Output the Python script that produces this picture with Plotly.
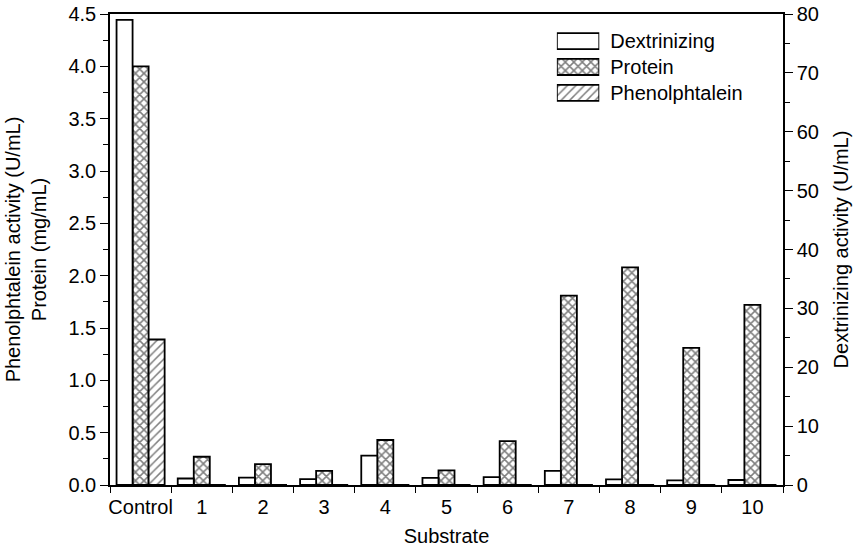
import plotly.graph_objects as go

categories = ["Control", "1", "2", "3", "4", "5", "6", "7", "8", "9", "10"]
dextrinizing = [79.0, 1.1, 1.25, 1.0, 5.0, 1.2, 1.35, 2.4, 0.95, 0.8, 0.85]   # U/mL, right axis
protein = [4.0, 0.27, 0.20, 0.135, 0.43, 0.14, 0.42, 1.81, 2.08, 1.31, 1.72]  # mg/mL, left axis
phenolphtalein = [1.39, 0, 0, 0, 0, 0, 0, 0, 0, 0, 0]                          # U/mL, left axis

series_names = ["Dextrinizing", "Protein", "Phenolphtalein"]
series_patterns = ["", "x", "/"]
pattern_sizes = [6, 6, 6]
pattern_solidity = [0.3, 0.45, 0.25]

FONT = "Liberation Sans, Arial, Helvetica, sans-serif"
FS = 20
W = 0.262
LW = 1.8

def marker_for(i):
    m = dict(color="white", line=dict(color="black", width=LW))
    if series_patterns[i]:
        m["pattern"] = dict(shape=series_patterns[i], fgcolor="black", bgcolor="white",
                            size=pattern_sizes[i], solidity=pattern_solidity[i])
    return m

fig = go.Figure()
fig.add_trace(go.Bar(
    x=categories, y=dextrinizing, name=series_names[0], yaxis="y2",
    width=W, offset=-1.5 * W, marker=marker_for(0),
))
fig.add_trace(go.Bar(
    x=categories, y=protein, name=series_names[1], yaxis="y",
    width=W, offset=-0.5 * W, marker=marker_for(1),
))
fig.add_trace(go.Bar(
    x=categories, y=phenolphtalein, name=series_names[2], yaxis="y",
    width=W, offset=0.5 * W, marker=marker_for(2),
))

# legend drawn as a tiny bar subplot (wide rectangles like the original)
fig.add_trace(go.Bar(
    y=series_names, x=[1, 1, 1], orientation="h", xaxis="x3", yaxis="y3",
    width=0.62, showlegend=False, hoverinfo="skip",
    marker=dict(color="white", line=dict(color="black", width=LW),
                pattern=dict(shape=series_patterns, fgcolor="black", bgcolor="white",
                             size=pattern_sizes, solidity=pattern_solidity)),
))

fig.update_layout(
    width=858, height=550,
    margin=dict(l=110, r=75, t=14, b=65, autoexpand=False),
    paper_bgcolor="white", plot_bgcolor="rgba(0,0,0,0)",
    font=dict(family=FONT, size=FS, color="black"),
    showlegend=False,
    xaxis=dict(
        type="category", categoryorder="array", categoryarray=categories,
        showline=True, linecolor="black", linewidth=1.5, mirror=True,
        ticks="outside", tickson="boundaries", ticklen=6, tickcolor="black",
        tickangle=0, tickfont=dict(size=FS), automargin=False, ticklabelstandoff=3,
        showgrid=False, zeroline=False,
        title=dict(text="Substrate", font=dict(size=FS), standoff=12),
        range=[-0.5, 10.5],
    ),
    yaxis=dict(
        range=[0, 4.5], dtick=0.5, tickformat=".1f",
        showline=True, linecolor="black", linewidth=1.5,
        ticks="outside", ticklen=8, tickcolor="black",
        minor=dict(ticks="outside", dtick=0.25, ticklen=5, tickcolor="black"),
        showgrid=False, zeroline=False, tickfont=dict(size=FS), automargin=False,
        ticklabeloverflow="allow",
        title=dict(text="Phenolphtalein activity (U/mL)<br>Protein (mg/mL)",
                   font=dict(size=FS), standoff=16),
    ),
    yaxis2=dict(
        overlaying="y", side="right", range=[0, 80], dtick=10,
        showline=True, linecolor="black", linewidth=1.5,
        ticks="outside", ticklen=8, tickcolor="black",
        minor=dict(ticks="outside", dtick=5, ticklen=5, tickcolor="black"),
        showgrid=False, zeroline=False, tickfont=dict(size=FS), automargin=False,
        ticklabeloverflow="allow",
        title=dict(text="Dextrinizing activity (U/mL)", font=dict(size=FS), standoff=16),
    ),
    xaxis3=dict(domain=[0.664, 0.727], anchor="y3", range=[0, 1],
                visible=False, fixedrange=True, automargin=False),
    yaxis3=dict(domain=[0.805, 0.97], anchor="x3", side="right",
                type="category", autorange="reversed", automargin=False,
                showline=False, showgrid=False, zeroline=False, ticks="",
                ticklabelstandoff=10, tickfont=dict(size=FS), fixedrange=True),
)

# remove the browser's default 8px body margin so the 858x550 figure fills the window
fig.write_html("out.html", config={"displayModeBar": False},
               post_script="document.body.style.margin='0';")
